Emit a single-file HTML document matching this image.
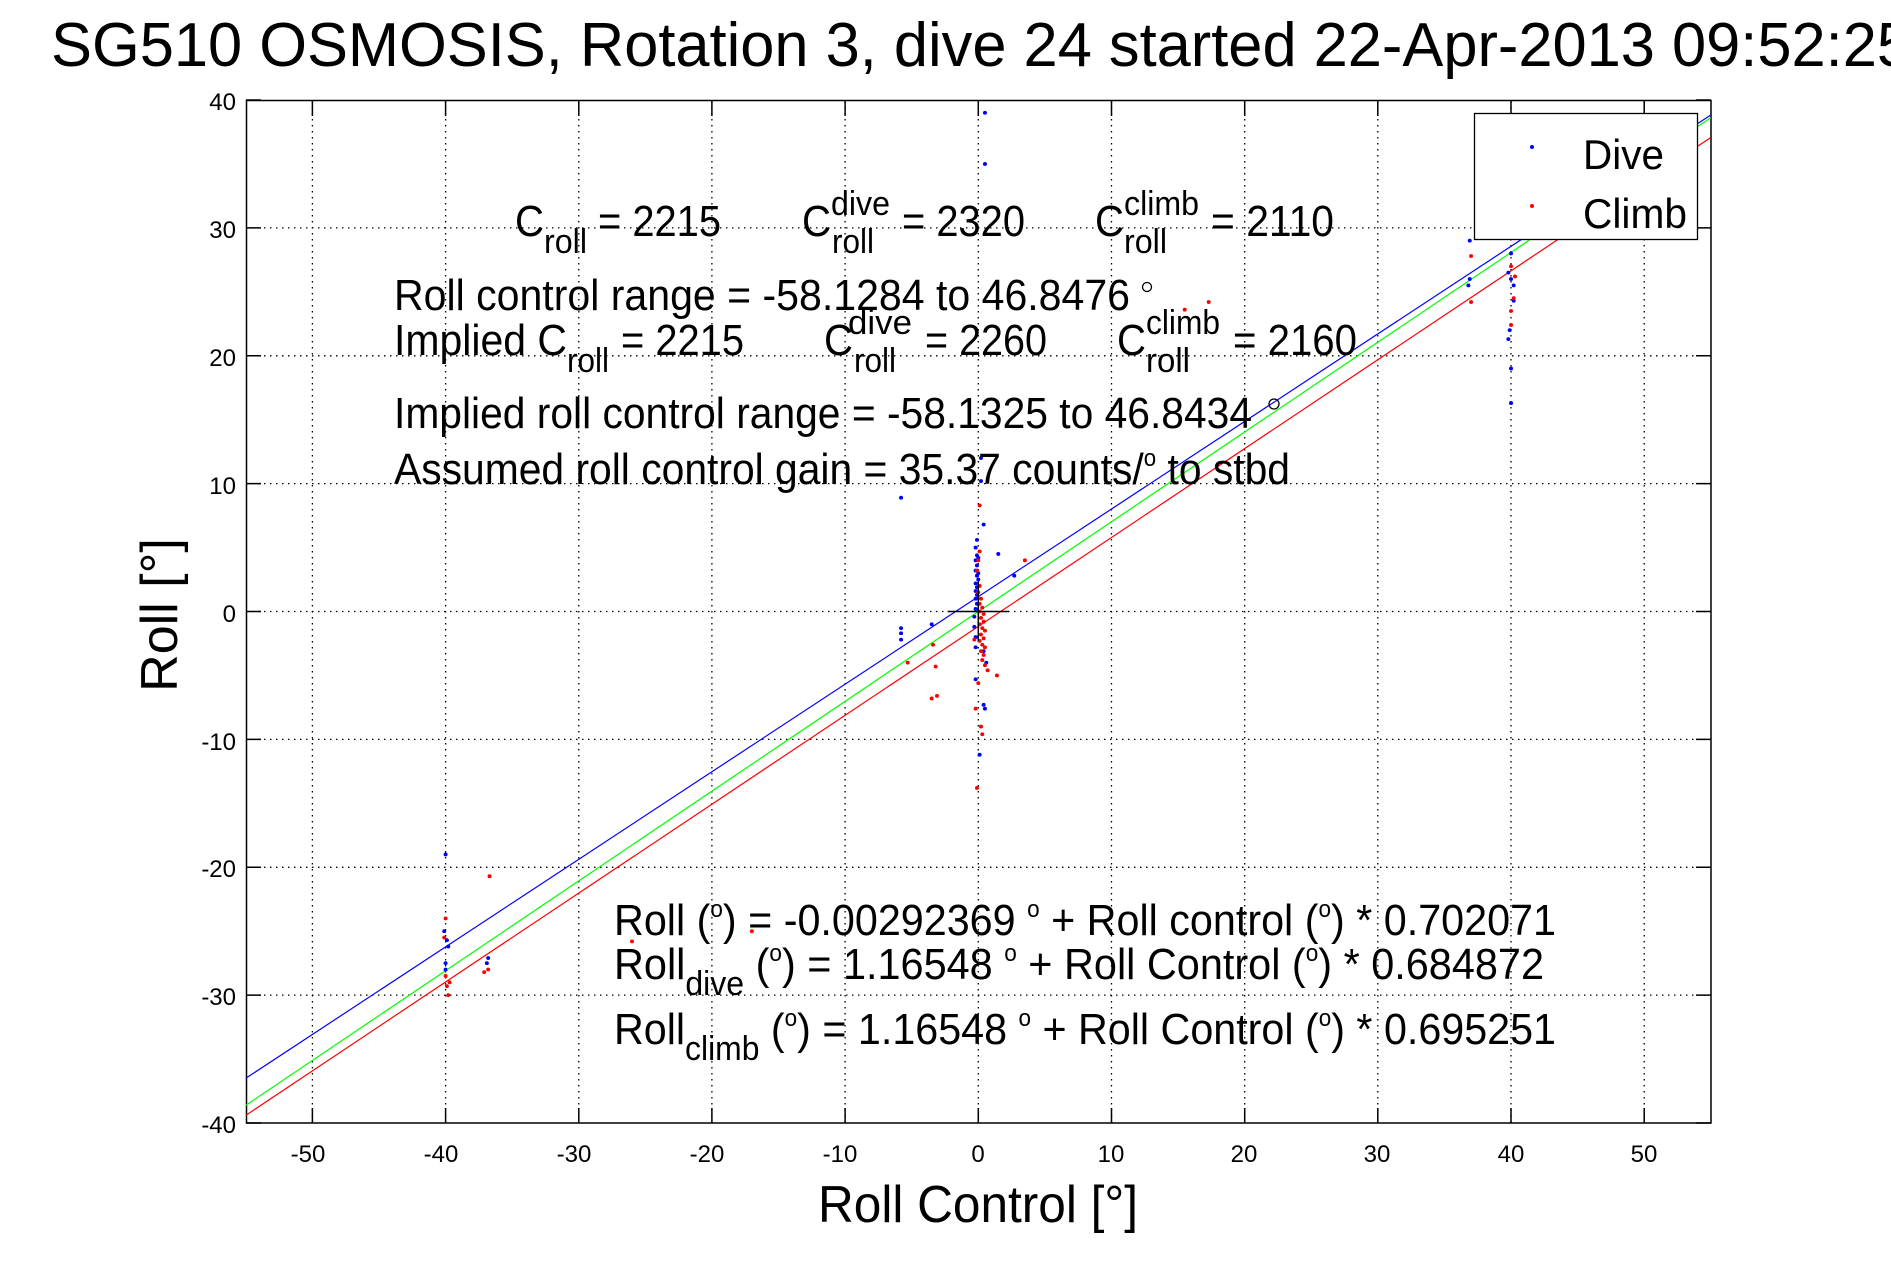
<!DOCTYPE html>
<html><head><meta charset="utf-8"><style>
body{margin:0;background:#fff}
svg{display:block}
text{font-family:"Liberation Sans",sans-serif;fill:#000}
</style></head><body>
<svg width="1891" height="1262" viewBox="0 0 1891 1262" xmlns="http://www.w3.org/2000/svg">
<rect width="1891" height="1262" fill="#fff"/>
<text x="51" y="66" font-size="62" textLength="1860" lengthAdjust="spacingAndGlyphs">SG510 OSMOSIS, Rotation 3, dive 24 started 22-Apr-2013 09:52:25</text>
<!-- grid -->
<g stroke="#000" stroke-width="1.3" stroke-dasharray="1.5,4.5">
<line x1="312.4" y1="101" x2="312.4" y2="1123"/><line x1="445.6" y1="101" x2="445.6" y2="1123"/>
<line x1="578.8" y1="101" x2="578.8" y2="1123"/><line x1="711.9" y1="101" x2="711.9" y2="1123"/>
<line x1="845.1" y1="101" x2="845.1" y2="1123"/><line x1="978.3" y1="101" x2="978.3" y2="1123"/>
<line x1="1111.5" y1="101" x2="1111.5" y2="1123"/><line x1="1244.7" y1="101" x2="1244.7" y2="1123"/>
<line x1="1377.8" y1="101" x2="1377.8" y2="1123"/><line x1="1511" y1="101" x2="1511" y2="1123"/>
<line x1="1644.2" y1="101" x2="1644.2" y2="1123"/>
<line x1="246" y1="227.9" x2="1711" y2="227.9"/><line x1="246" y1="355.8" x2="1711" y2="355.8"/>
<line x1="246" y1="483.6" x2="1711" y2="483.6"/><line x1="246" y1="611.5" x2="1711" y2="611.5"/>
<line x1="246" y1="739.4" x2="1711" y2="739.4"/><line x1="246" y1="867.3" x2="1711" y2="867.3"/>
<line x1="246" y1="995.1" x2="1711" y2="995.1"/>
</g>
<g stroke="#000" stroke-width="1.5">
<path d="M312.4,1123v-15M445.6,1123v-15M578.8,1123v-15M711.9,1123v-15M845.1,1123v-15M978.3,1123v-15M1111.5,1123v-15M1244.7,1123v-15M1377.8,1123v-15M1511,1123v-15M1644.2,1123v-15"/>
<path d="M312.4,101v15M445.6,101v15M578.8,101v15M711.9,101v15M845.1,101v15M978.3,101v15M1111.5,101v15M1244.7,101v15M1377.8,101v15M1511,101v15M1644.2,101v15"/>
<path d="M246,100h15M246,227.9h15M246,355.8h15M246,483.6h15M246,611.5h15M246,739.4h15M246,867.3h15M246,995.1h15M246,1123h15"/>
<path d="M1711,100h-15M1711,227.9h-15M1711,355.8h-15M1711,483.6h-15M1711,611.5h-15M1711,739.4h-15M1711,867.3h-15M1711,995.1h-15M1711,1123h-15"/>
</g>
<rect x="246.5" y="100.5" width="1464.5" height="1022.5" fill="none" stroke="#000" stroke-width="1.5"/>
<g font-size="24" text-anchor="end">
<text x="236" y="110">40</text><text x="236" y="238">30</text><text x="236" y="366">20</text>
<text x="236" y="494">10</text><text x="236" y="622">0</text><text x="236" y="750">-10</text>
<text x="236" y="877">-20</text><text x="236" y="1005">-30</text><text x="236" y="1133">-40</text>
</g>
<g font-size="24" text-anchor="middle">
<text x="308" y="1162">-50</text><text x="441" y="1162">-40</text><text x="574" y="1162">-30</text>
<text x="707" y="1162">-20</text><text x="840" y="1162">-10</text><text x="978" y="1162">0</text>
<text x="1111" y="1162">10</text><text x="1244" y="1162">20</text><text x="1377" y="1162">30</text>
<text x="1511" y="1162">40</text><text x="1644" y="1162">50</text>
</g>
<text x="818" y="1222" font-size="52" textLength="320" lengthAdjust="spacingAndGlyphs">Roll Control [°]</text>
<text transform="translate(177,615) rotate(-90)" font-size="52" text-anchor="middle">Roll [°]</text>
<g transform="translate(978.3,611.5) scale(13.318,-12.7875)">
<line x1="-55" y1="-36.5" x2="55" y2="38.83" stroke="#0000ff" stroke-width="1.2" vector-effect="non-scaling-stroke"/>
<line x1="-55" y1="-38.62" x2="55" y2="38.61" stroke="#00ff00" stroke-width="1.2" vector-effect="non-scaling-stroke"/>
<line x1="-55" y1="-39.40" x2="55" y2="37.07" stroke="#ff0000" stroke-width="1.2" vector-effect="non-scaling-stroke"/>
<g fill="#0000ff">
<circle cx="0.5" cy="39" r="0.15"/><circle cx="0.5" cy="35" r="0.15"/><circle cx="-5.8" cy="8.9" r="0.15"/>
<circle cx="0.2" cy="12" r="0.15"/><circle cx="0.2" cy="10.2" r="0.15"/><circle cx="0.4" cy="6.8" r="0.15"/>
<circle cx="-0.1" cy="5.6" r="0.15"/><circle cx="-0.2" cy="5" r="0.15"/><circle cx="-0.1" cy="4.4" r="0.15"/>
<circle cx="-0.2" cy="4" r="0.15"/><circle cx="-0.1" cy="3.6" r="0.15"/><circle cx="-0.2" cy="3.2" r="0.15"/>
<circle cx="-0.1" cy="2.8" r="0.15"/><circle cx="0" cy="2.5" r="0.15"/><circle cx="-0.2" cy="2.2" r="0.15"/>
<circle cx="-0.1" cy="1.9" r="0.15"/><circle cx="-0.2" cy="1.6" r="0.15"/><circle cx="-0.1" cy="1.3" r="0.15"/>
<circle cx="-0.2" cy="1" r="0.15"/><circle cx="-0.1" cy="0.6" r="0.15"/><circle cx="-0.2" cy="0.2" r="0.15"/>
<circle cx="0" cy="4.2" r="0.15"/><circle cx="0" cy="3" r="0.15"/><circle cx="-0.3" cy="-0.4" r="0.15"/>
<circle cx="-0.3" cy="-1.2" r="0.15"/><circle cx="-0.2" cy="-2" r="0.15"/><circle cx="-0.2" cy="-2.8" r="0.15"/>
<circle cx="0.4" cy="-3.1" r="0.15"/><circle cx="0.6" cy="-4" r="0.15"/><circle cx="-0.2" cy="-5.3" r="0.15"/>
<circle cx="0.4" cy="-7.3" r="0.15"/><circle cx="0.5" cy="-7.6" r="0.15"/><circle cx="0.1" cy="-11.2" r="0.15"/>
<circle cx="-5.8" cy="-1.3" r="0.15"/><circle cx="-5.8" cy="-1.7" r="0.15"/><circle cx="-5.8" cy="-2.2" r="0.15"/>
<circle cx="-3.5" cy="-1" r="0.15"/><circle cx="2.7" cy="2.8" r="0.15"/><circle cx="1.5" cy="4.5" r="0.15"/>
<circle cx="-40" cy="-19" r="0.15"/><circle cx="-40.1" cy="-25" r="0.15"/><circle cx="-39.9" cy="-25.7" r="0.15"/>
<circle cx="-39.8" cy="-26.2" r="0.15"/><circle cx="-40" cy="-27.5" r="0.15"/><circle cx="-40" cy="-28" r="0.15"/>
<circle cx="-36.8" cy="-27.1" r="0.15"/><circle cx="-36.9" cy="-27.5" r="0.15"/>
<circle cx="36.9" cy="29" r="0.15"/><circle cx="36.9" cy="26" r="0.15"/><circle cx="36.8" cy="25.5" r="0.15"/>
<circle cx="40" cy="29.6" r="0.15"/><circle cx="40" cy="28" r="0.15"/><circle cx="39.8" cy="26.5" r="0.15"/>
<circle cx="40" cy="26" r="0.15"/><circle cx="40.2" cy="25.5" r="0.15"/><circle cx="39.9" cy="22" r="0.15"/>
<circle cx="39.8" cy="21.3" r="0.15"/><circle cx="40" cy="19" r="0.15"/><circle cx="40" cy="16.3" r="0.15"/>
<circle cx="40.2" cy="24.3" r="0.15"/>
</g>
<g fill="#ff0000">
<circle cx="0.1" cy="8.3" r="0.15"/><circle cx="0.1" cy="4.7" r="0.15"/><circle cx="0" cy="4" r="0.15"/>
<circle cx="-0.1" cy="3.2" r="0.15"/><circle cx="0.1" cy="2" r="0.15"/><circle cx="0" cy="1.5" r="0.15"/>
<circle cx="0.2" cy="1" r="0.15"/><circle cx="0.1" cy="0.6" r="0.15"/><circle cx="0.3" cy="0.3" r="0.15"/>
<circle cx="0.1" cy="0" r="0.15"/><circle cx="0.4" cy="-0.2" r="0.15"/><circle cx="0.2" cy="-0.5" r="0.15"/>
<circle cx="0.4" cy="-0.8" r="0.15"/><circle cx="0.1" cy="-1" r="0.15"/><circle cx="0.3" cy="-1.3" r="0.15"/>
<circle cx="0.5" cy="-1.5" r="0.15"/><circle cx="0.2" cy="-1.8" r="0.15"/><circle cx="0.4" cy="-2.1" r="0.15"/>
<circle cx="0.1" cy="-2.3" r="0.15"/><circle cx="0.3" cy="-2.6" r="0.15"/><circle cx="0.5" cy="-2.8" r="0.15"/>
<circle cx="0.2" cy="-3.1" r="0.15"/><circle cx="0.4" cy="-3.4" r="0.15"/><circle cx="0.3" cy="-3.8" r="0.15"/>
<circle cx="0.5" cy="-4.2" r="0.15"/><circle cx="0.7" cy="-4.6" r="0.15"/><circle cx="-0.3" cy="-2.2" r="0.15"/>
<circle cx="0" cy="-5.6" r="0.15"/><circle cx="-0.2" cy="-7.6" r="0.15"/><circle cx="0.2" cy="-9" r="0.15"/>
<circle cx="0.3" cy="-9.6" r="0.15"/><circle cx="-0.1" cy="-13.8" r="0.15"/><circle cx="1.4" cy="-5" r="0.15"/>
<circle cx="3.5" cy="4" r="0.15"/><circle cx="-3.4" cy="-2.6" r="0.15"/><circle cx="-3.2" cy="-4.3" r="0.15"/>
<circle cx="-3.1" cy="-6.6" r="0.15"/><circle cx="-3.5" cy="-6.8" r="0.15"/><circle cx="-5.3" cy="-4" r="0.15"/>
<circle cx="-40" cy="-24" r="0.15"/><circle cx="-40.1" cy="-25.5" r="0.15"/><circle cx="-40" cy="-28.5" r="0.15"/>
<circle cx="-39.7" cy="-29" r="0.15"/><circle cx="-39.9" cy="-29.3" r="0.15"/><circle cx="-39.8" cy="-30" r="0.15"/>
<circle cx="-36.8" cy="-28" r="0.15"/><circle cx="-37.1" cy="-28.2" r="0.15"/><circle cx="-36.7" cy="-20.7" r="0.15"/>
<circle cx="-26" cy="-25.8" r="0.15"/><circle cx="-17" cy="-25" r="0.15"/>
<circle cx="37" cy="27.8" r="0.15"/><circle cx="37" cy="24.2" r="0.15"/><circle cx="40" cy="27" r="0.15"/>
<circle cx="40.3" cy="26.2" r="0.15"/><circle cx="40.2" cy="24.5" r="0.15"/><circle cx="40" cy="23.5" r="0.15"/>
<circle cx="40" cy="22.4" r="0.15"/><circle cx="15.5" cy="23.6" r="0.15"/><circle cx="17.3" cy="24.2" r="0.15"/>
</g>
<path d="M-2.3,0H2.3M0,-2.3V2.3" stroke="#000" stroke-width="1.5" vector-effect="non-scaling-stroke"/>
</g>
<!-- annotations -->
<g font-size="44" lengthAdjust="spacingAndGlyphs">
<text x="515" y="236" textLength="29" lengthAdjust="spacingAndGlyphs">C</text>
<text x="544" y="253" font-size="34" textLength="43" lengthAdjust="spacingAndGlyphs">roll</text>
<text x="598" y="236" textLength="123" lengthAdjust="spacingAndGlyphs">= 2215</text>
<text x="802" y="236" textLength="29" lengthAdjust="spacingAndGlyphs">C</text>
<text x="831" y="215" font-size="34" textLength="59" lengthAdjust="spacingAndGlyphs">dive</text>
<text x="832" y="253" font-size="34" textLength="42" lengthAdjust="spacingAndGlyphs">roll</text>
<text x="902" y="236" textLength="123" lengthAdjust="spacingAndGlyphs">= 2320</text>
<text x="1095" y="236" textLength="29" lengthAdjust="spacingAndGlyphs">C</text>
<text x="1124" y="215" font-size="34" textLength="75" lengthAdjust="spacingAndGlyphs">climb</text>
<text x="1124" y="253" font-size="34" textLength="43" lengthAdjust="spacingAndGlyphs">roll</text>
<text x="1211" y="236" textLength="123" lengthAdjust="spacingAndGlyphs">= 2110</text>

<text x="394" y="310" textLength="736" lengthAdjust="spacingAndGlyphs">Roll control range = -58.1284 to 46.8476</text>
<circle cx="1147" cy="287" r="4.5" fill="none" stroke="#000" stroke-width="1.3"/>

<text x="394" y="355" textLength="173" lengthAdjust="spacingAndGlyphs">Implied C</text>
<text x="567" y="372" font-size="34" textLength="42" lengthAdjust="spacingAndGlyphs">roll</text>
<text x="621" y="355" textLength="123" lengthAdjust="spacingAndGlyphs">= 2215</text>
<text x="824" y="355" textLength="29" lengthAdjust="spacingAndGlyphs">C</text>
<text x="848" y="334" font-size="34" textLength="64" lengthAdjust="spacingAndGlyphs">dive</text>
<text x="854" y="372" font-size="34" textLength="42" lengthAdjust="spacingAndGlyphs">roll</text>
<text x="925" y="355" textLength="122" lengthAdjust="spacingAndGlyphs">= 2260</text>
<text x="1117" y="355" textLength="29" lengthAdjust="spacingAndGlyphs">C</text>
<text x="1146" y="334" font-size="34" textLength="74" lengthAdjust="spacingAndGlyphs">climb</text>
<text x="1146" y="372" font-size="34" textLength="44" lengthAdjust="spacingAndGlyphs">roll</text>
<text x="1233" y="355" textLength="124" lengthAdjust="spacingAndGlyphs">= 2160</text>

<text x="394" y="428" textLength="858" lengthAdjust="spacingAndGlyphs">Implied roll control range = -58.1325 to 46.8434</text>
<circle cx="1274" cy="404" r="5" fill="none" stroke="#000" stroke-width="1.3"/>
<text x="394" y="484" textLength="896" lengthAdjust="spacingAndGlyphs">Assumed roll control gain = 35.37 counts/<tspan font-size="24" dy="-18">o</tspan><tspan dy="18"> to stbd</tspan></text>

<text x="614" y="935" textLength="942" lengthAdjust="spacingAndGlyphs">Roll (<tspan font-size="24" dy="-18">o</tspan><tspan dy="18">) = -0.00292369 </tspan><tspan font-size="24" dy="-18">o</tspan><tspan dy="18"> + Roll control (</tspan><tspan font-size="24" dy="-18">o</tspan><tspan dy="18">) * 0.702071</tspan></text>
<text x="614" y="979" textLength="930" lengthAdjust="spacingAndGlyphs">Roll<tspan font-size="34" dy="16">dive</tspan><tspan dy="-16"> (</tspan><tspan font-size="24" dy="-18">o</tspan><tspan dy="18">) = 1.16548 </tspan><tspan font-size="24" dy="-18">o</tspan><tspan dy="18"> + Roll Control (</tspan><tspan font-size="24" dy="-18">o</tspan><tspan dy="18">) * 0.684872</tspan></text>
<text x="614" y="1044" textLength="942" lengthAdjust="spacingAndGlyphs">Roll<tspan font-size="34" dy="16">climb</tspan><tspan dy="-16"> (</tspan><tspan font-size="24" dy="-18">o</tspan><tspan dy="18">) = 1.16548 </tspan><tspan font-size="24" dy="-18">o</tspan><tspan dy="18"> + Roll Control (</tspan><tspan font-size="24" dy="-18">o</tspan><tspan dy="18">) * 0.695251</tspan></text>
</g>
<rect x="1474.5" y="113.5" width="223" height="126" fill="#fff" stroke="#000" stroke-width="1.3"/>
<circle cx="1532" cy="147" r="2" fill="#0000ff"/>
<circle cx="1532" cy="206" r="2" fill="#ff0000"/>
<text x="1583" y="169" font-size="42" textLength="81" lengthAdjust="spacingAndGlyphs">Dive</text>
<text x="1583" y="228" font-size="42" textLength="104" lengthAdjust="spacingAndGlyphs">Climb</text>
</svg>
</body></html>
